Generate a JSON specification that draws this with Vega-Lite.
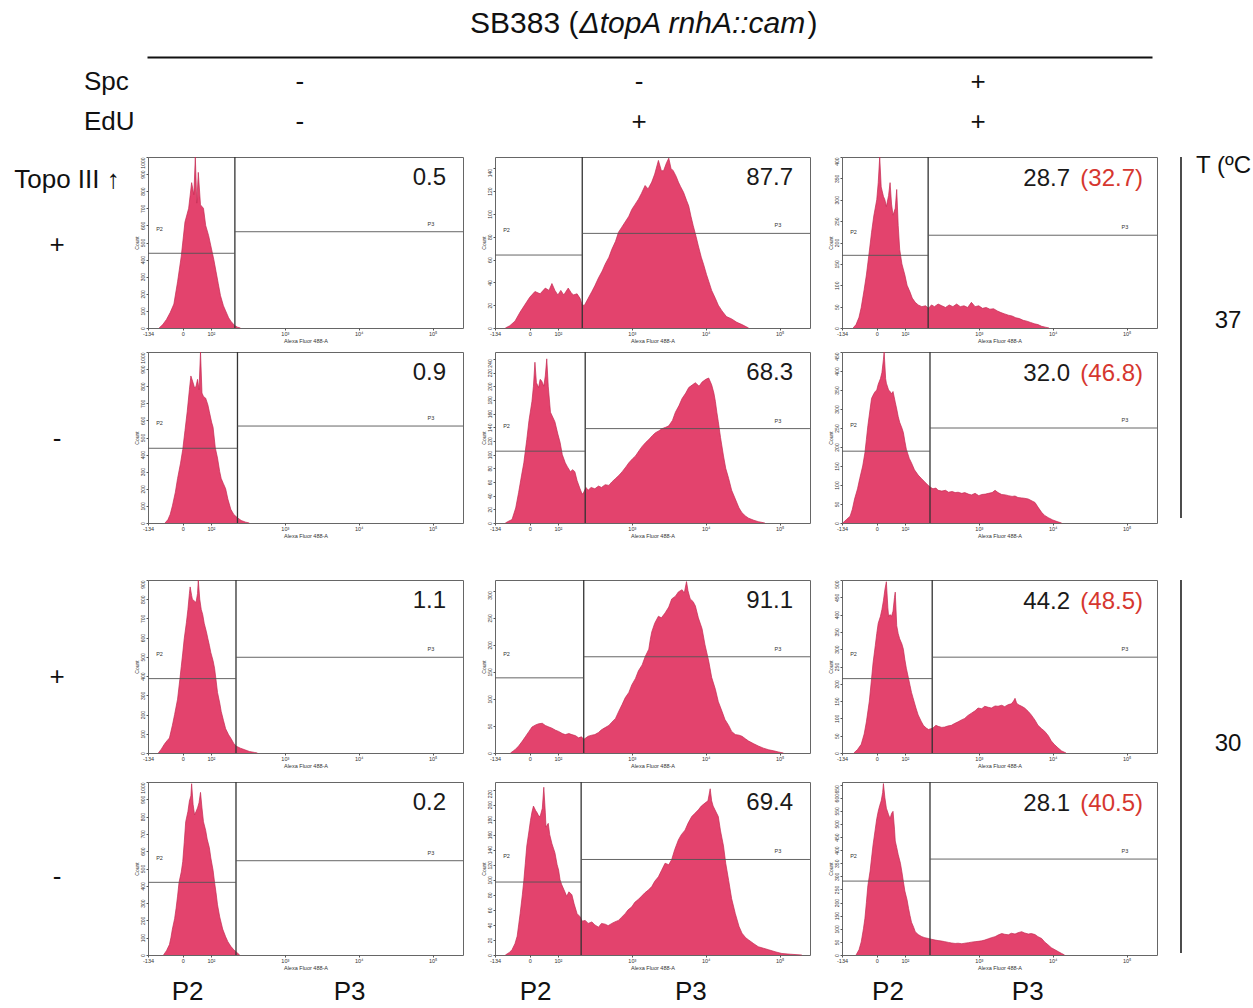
{
"$schema":"https://vega.github.io/schema/vega-lite/v6.json",
"background":"white",
"padding":{"left":12,"top":0,"right":0,"bottom":0},
"config":{"font":"Liberation Sans","view":{"stroke":"#666","strokeWidth":1},"text":{"font":"Liberation Sans"},"title":{"font":"Liberation Sans"}},
"datasets":{
"panels":[{"p":1,"g":"37","t":"+","c":"c1"},{"p":2,"g":"37","t":"+","c":"c2"},{"p":3,"g":"37","t":"+","c":"c3"},{"p":4,"g":"37","t":"-","c":"c1"},{"p":5,"g":"37","t":"-","c":"c2"},{"p":6,"g":"37","t":"-","c":"c3"},{"p":7,"g":"30","t":"+","c":"c1"},{"p":8,"g":"30","t":"+","c":"c2"},{"p":9,"g":"30","t":"+","c":"c3"},{"p":10,"g":"30","t":"-","c":"c1"},{"p":11,"g":"30","t":"-","c":"c2"},{"p":12,"g":"30","t":"-","c":"c3"}],
"flow":[
{"p":1,"k":"i","xg":2.325,"p2":437,"p3":563,"top":1000,"v":"0.5"},
{"p":2,"k":"i","xg":2.33,"p2":64,"p3":83,"top":150,"v":"87.7"},
{"p":3,"k":"i","xg":2.315,"p2":170,"p3":217,"top":400,"v":"28.7","w":"(32.7)"},
{"p":4,"k":"i","xg":2.36,"p2":437,"p3":567,"top":1000,"v":"0.9"},
{"p":5,"k":"i","xg":2.37,"p2":105,"p3":138,"top":250,"v":"68.3"},
{"p":6,"k":"i","xg":2.34,"p2":189,"p3":250,"top":450,"v":"32.0","w":"(46.8)"},
{"p":7,"k":"i","xg":2.34,"p2":387,"p3":498,"top":900,"v":"1.1"},
{"p":8,"k":"i","xg":2.35,"p2":139,"p3":178,"top":320,"v":"91.1"},
{"p":9,"k":"i","xg":2.37,"p2":215,"p3":277,"top":500,"v":"44.2","w":"(48.5)"},
{"p":10,"k":"i","xg":2.34,"p2":420,"p3":545,"top":1000,"v":"0.2"},
{"p":11,"k":"i","xg":2.315,"p2":97,"p3":127,"top":230,"v":"69.4"},
{"p":12,"k":"i","xg":2.34,"p2":282,"p3":366,"top":660,"v":"28.1","w":"(40.5)"},
{"p":1,"x":1.30,"n":0},{"p":1,"x":1.35,"n":20},{"p":1,"x":1.40,"n":50},{"p":1,"x":1.45,"n":90},{"p":1,"x":1.50,"n":140},{"p":1,"x":1.55,"n":270},{"p":1,"x":1.60,"n":420},{"p":1,"x":1.65,"n":620},{"p":1,"x":1.70,"n":700},{"p":1,"x":1.74,"n":850},{"p":1,"x":1.77,"n":780},{"p":1,"x":1.79,"n":1000},{"p":1,"x":1.81,"n":730},{"p":1,"x":1.83,"n":910},{"p":1,"x":1.86,"n":720},{"p":1,"x":1.90,"n":700},{"p":1,"x":1.93,"n":600},{"p":1,"x":1.97,"n":540},{"p":1,"x":2.00,"n":480},{"p":1,"x":2.04,"n":400},{"p":1,"x":2.07,"n":330},{"p":1,"x":2.10,"n":260},{"p":1,"x":2.13,"n":190},{"p":1,"x":2.17,"n":130},{"p":1,"x":2.20,"n":100},{"p":1,"x":2.24,"n":60},{"p":1,"x":2.27,"n":40},{"p":1,"x":2.32,"n":15},{"p":1,"x":2.36,"n":5},{"p":1,"x":2.40,"n":0},
{"p":2,"x":1.29,"n":0},{"p":2,"x":1.35,"n":2},{"p":2,"x":1.42,"n":6},{"p":2,"x":1.49,"n":14},{"p":2,"x":1.56,"n":21},{"p":2,"x":1.62,"n":27},{"p":2,"x":1.69,"n":32},{"p":2,"x":1.76,"n":30},{"p":2,"x":1.83,"n":35},{"p":2,"x":1.88,"n":33},{"p":2,"x":1.92,"n":39},{"p":2,"x":1.96,"n":33},{"p":2,"x":2.00,"n":29},{"p":2,"x":2.04,"n":33},{"p":2,"x":2.08,"n":29},{"p":2,"x":2.14,"n":35},{"p":2,"x":2.18,"n":31},{"p":2,"x":2.21,"n":29},{"p":2,"x":2.26,"n":30},{"p":2,"x":2.30,"n":26},{"p":2,"x":2.33,"n":20},{"p":2,"x":2.36,"n":20},{"p":2,"x":2.41,"n":26},{"p":2,"x":2.46,"n":32},{"p":2,"x":2.50,"n":37},{"p":2,"x":2.55,"n":44},{"p":2,"x":2.60,"n":50},{"p":2,"x":2.64,"n":56},{"p":2,"x":2.69,"n":62},{"p":2,"x":2.73,"n":69},{"p":2,"x":2.78,"n":76},{"p":2,"x":2.82,"n":84},{"p":2,"x":2.86,"n":88},{"p":2,"x":2.91,"n":93},{"p":2,"x":2.96,"n":98},{"p":2,"x":3.00,"n":104},{"p":2,"x":3.04,"n":108},{"p":2,"x":3.09,"n":113},{"p":2,"x":3.13,"n":118},{"p":2,"x":3.18,"n":125},{"p":2,"x":3.22,"n":122},{"p":2,"x":3.27,"n":128},{"p":2,"x":3.31,"n":135},{"p":2,"x":3.36,"n":147},{"p":2,"x":3.40,"n":138},{"p":2,"x":3.43,"n":138},{"p":2,"x":3.47,"n":145},{"p":2,"x":3.50,"n":149},{"p":2,"x":3.53,"n":140},{"p":2,"x":3.56,"n":138},{"p":2,"x":3.60,"n":133},{"p":2,"x":3.63,"n":128},{"p":2,"x":3.66,"n":124},{"p":2,"x":3.70,"n":119},{"p":2,"x":3.74,"n":112},{"p":2,"x":3.77,"n":107},{"p":2,"x":3.80,"n":98},{"p":2,"x":3.83,"n":90},{"p":2,"x":3.87,"n":80},{"p":2,"x":3.90,"n":72},{"p":2,"x":3.94,"n":62},{"p":2,"x":3.97,"n":56},{"p":2,"x":4.01,"n":47},{"p":2,"x":4.04,"n":41},{"p":2,"x":4.08,"n":33},{"p":2,"x":4.13,"n":26},{"p":2,"x":4.17,"n":20},{"p":2,"x":4.22,"n":15},{"p":2,"x":4.28,"n":10},{"p":2,"x":4.35,"n":8},{"p":2,"x":4.42,"n":5},{"p":2,"x":4.49,"n":3},{"p":2,"x":4.58,"n":0},
{"p":3,"x":1.30,"n":0},{"p":3,"x":1.34,"n":8},{"p":3,"x":1.38,"n":25},{"p":3,"x":1.41,"n":48},{"p":3,"x":1.45,"n":90},{"p":3,"x":1.48,"n":124},{"p":3,"x":1.52,"n":180},{"p":3,"x":1.55,"n":224},{"p":3,"x":1.58,"n":262},{"p":3,"x":1.62,"n":300},{"p":3,"x":1.64,"n":340},{"p":3,"x":1.66,"n":400},{"p":3,"x":1.68,"n":330},{"p":3,"x":1.71,"n":308},{"p":3,"x":1.73,"n":300},{"p":3,"x":1.75,"n":284},{"p":3,"x":1.78,"n":310},{"p":3,"x":1.80,"n":340},{"p":3,"x":1.82,"n":290},{"p":3,"x":1.84,"n":264},{"p":3,"x":1.87,"n":280},{"p":3,"x":1.89,"n":324},{"p":3,"x":1.91,"n":240},{"p":3,"x":1.93,"n":184},{"p":3,"x":1.96,"n":150},{"p":3,"x":2.00,"n":124},{"p":3,"x":2.03,"n":100},{"p":3,"x":2.07,"n":84},{"p":3,"x":2.10,"n":70},{"p":3,"x":2.14,"n":60},{"p":3,"x":2.18,"n":54},{"p":3,"x":2.23,"n":50},{"p":3,"x":2.28,"n":52},{"p":3,"x":2.32,"n":46},{"p":3,"x":2.36,"n":54},{"p":3,"x":2.40,"n":50},{"p":3,"x":2.45,"n":56},{"p":3,"x":2.50,"n":52},{"p":3,"x":2.55,"n":48},{"p":3,"x":2.60,"n":54},{"p":3,"x":2.65,"n":50},{"p":3,"x":2.70,"n":56},{"p":3,"x":2.75,"n":50},{"p":3,"x":2.80,"n":52},{"p":3,"x":2.85,"n":48},{"p":3,"x":2.90,"n":60},{"p":3,"x":2.95,"n":50},{"p":3,"x":3.00,"n":52},{"p":3,"x":3.05,"n":46},{"p":3,"x":3.10,"n":48},{"p":3,"x":3.15,"n":44},{"p":3,"x":3.20,"n":45},{"p":3,"x":3.25,"n":40},{"p":3,"x":3.30,"n":36},{"p":3,"x":3.35,"n":33},{"p":3,"x":3.40,"n":30},{"p":3,"x":3.45,"n":28},{"p":3,"x":3.50,"n":24},{"p":3,"x":3.55,"n":22},{"p":3,"x":3.60,"n":18},{"p":3,"x":3.65,"n":16},{"p":3,"x":3.70,"n":13},{"p":3,"x":3.75,"n":10},{"p":3,"x":3.80,"n":8},{"p":3,"x":3.85,"n":4},{"p":3,"x":3.90,"n":2},{"p":3,"x":3.95,"n":0},
{"p":4,"x":1.38,"n":0},{"p":4,"x":1.42,"n":20},{"p":4,"x":1.45,"n":50},{"p":4,"x":1.48,"n":100},{"p":4,"x":1.52,"n":180},{"p":4,"x":1.55,"n":260},{"p":4,"x":1.59,"n":350},{"p":4,"x":1.62,"n":430},{"p":4,"x":1.65,"n":540},{"p":4,"x":1.68,"n":650},{"p":4,"x":1.71,"n":780},{"p":4,"x":1.73,"n":860},{"p":4,"x":1.76,"n":820},{"p":4,"x":1.78,"n":790},{"p":4,"x":1.80,"n":800},{"p":4,"x":1.82,"n":840},{"p":4,"x":1.84,"n":780},{"p":4,"x":1.86,"n":1000},{"p":4,"x":1.88,"n":760},{"p":4,"x":1.90,"n":740},{"p":4,"x":1.93,"n":730},{"p":4,"x":1.96,"n":690},{"p":4,"x":1.98,"n":650},{"p":4,"x":2.01,"n":590},{"p":4,"x":2.03,"n":560},{"p":4,"x":2.06,"n":440},{"p":4,"x":2.09,"n":380},{"p":4,"x":2.12,"n":300},{"p":4,"x":2.14,"n":260},{"p":4,"x":2.17,"n":230},{"p":4,"x":2.20,"n":200},{"p":4,"x":2.23,"n":140},{"p":4,"x":2.27,"n":80},{"p":4,"x":2.31,"n":50},{"p":4,"x":2.36,"n":30},{"p":4,"x":2.41,"n":15},{"p":4,"x":2.47,"n":5},{"p":4,"x":2.52,"n":0},
{"p":5,"x":1.29,"n":0},{"p":5,"x":1.34,"n":3},{"p":5,"x":1.38,"n":5},{"p":5,"x":1.43,"n":22},{"p":5,"x":1.47,"n":45},{"p":5,"x":1.51,"n":70},{"p":5,"x":1.54,"n":88},{"p":5,"x":1.58,"n":122},{"p":5,"x":1.61,"n":150},{"p":5,"x":1.65,"n":178},{"p":5,"x":1.67,"n":200},{"p":5,"x":1.69,"n":235},{"p":5,"x":1.71,"n":205},{"p":5,"x":1.74,"n":198},{"p":5,"x":1.76,"n":210},{"p":5,"x":1.78,"n":208},{"p":5,"x":1.81,"n":200},{"p":5,"x":1.83,"n":215},{"p":5,"x":1.85,"n":240},{"p":5,"x":1.87,"n":200},{"p":5,"x":1.90,"n":162},{"p":5,"x":1.93,"n":155},{"p":5,"x":1.96,"n":148},{"p":5,"x":2.00,"n":130},{"p":5,"x":2.03,"n":118},{"p":5,"x":2.06,"n":100},{"p":5,"x":2.10,"n":88},{"p":5,"x":2.13,"n":82},{"p":5,"x":2.17,"n":75},{"p":5,"x":2.20,"n":78},{"p":5,"x":2.23,"n":75},{"p":5,"x":2.26,"n":62},{"p":5,"x":2.30,"n":50},{"p":5,"x":2.33,"n":42},{"p":5,"x":2.35,"n":45},{"p":5,"x":2.38,"n":52},{"p":5,"x":2.41,"n":48},{"p":5,"x":2.45,"n":52},{"p":5,"x":2.50,"n":50},{"p":5,"x":2.55,"n":54},{"p":5,"x":2.59,"n":52},{"p":5,"x":2.64,"n":56},{"p":5,"x":2.69,"n":55},{"p":5,"x":2.73,"n":60},{"p":5,"x":2.78,"n":65},{"p":5,"x":2.83,"n":70},{"p":5,"x":2.87,"n":75},{"p":5,"x":2.92,"n":82},{"p":5,"x":2.96,"n":88},{"p":5,"x":3.01,"n":94},{"p":5,"x":3.05,"n":98},{"p":5,"x":3.10,"n":106},{"p":5,"x":3.14,"n":112},{"p":5,"x":3.19,"n":118},{"p":5,"x":3.23,"n":122},{"p":5,"x":3.28,"n":128},{"p":5,"x":3.32,"n":132},{"p":5,"x":3.37,"n":135},{"p":5,"x":3.41,"n":138},{"p":5,"x":3.46,"n":140},{"p":5,"x":3.50,"n":142},{"p":5,"x":3.55,"n":150},{"p":5,"x":3.59,"n":162},{"p":5,"x":3.64,"n":172},{"p":5,"x":3.68,"n":182},{"p":5,"x":3.73,"n":190},{"p":5,"x":3.77,"n":198},{"p":5,"x":3.82,"n":202},{"p":5,"x":3.86,"n":205},{"p":5,"x":3.91,"n":200},{"p":5,"x":3.95,"n":206},{"p":5,"x":4.00,"n":210},{"p":5,"x":4.04,"n":212},{"p":5,"x":4.08,"n":202},{"p":5,"x":4.11,"n":190},{"p":5,"x":4.13,"n":178},{"p":5,"x":4.15,"n":162},{"p":5,"x":4.17,"n":148},{"p":5,"x":4.20,"n":125},{"p":5,"x":4.24,"n":98},{"p":5,"x":4.27,"n":80},{"p":5,"x":4.31,"n":65},{"p":5,"x":4.35,"n":48},{"p":5,"x":4.40,"n":35},{"p":5,"x":4.45,"n":22},{"p":5,"x":4.49,"n":15},{"p":5,"x":4.54,"n":10},{"p":5,"x":4.58,"n":7},{"p":5,"x":4.65,"n":4},{"p":5,"x":4.71,"n":2},{"p":5,"x":4.80,"n":0},
{"p":6,"x":1.16,"n":0},{"p":6,"x":1.21,"n":9},{"p":6,"x":1.26,"n":18},{"p":6,"x":1.29,"n":36},{"p":6,"x":1.32,"n":63},{"p":6,"x":1.36,"n":90},{"p":6,"x":1.39,"n":117},{"p":6,"x":1.43,"n":150},{"p":6,"x":1.46,"n":185},{"p":6,"x":1.48,"n":220},{"p":6,"x":1.50,"n":256},{"p":6,"x":1.53,"n":300},{"p":6,"x":1.55,"n":328},{"p":6,"x":1.58,"n":340},{"p":6,"x":1.60,"n":346},{"p":6,"x":1.62,"n":350},{"p":6,"x":1.64,"n":365},{"p":6,"x":1.67,"n":380},{"p":6,"x":1.69,"n":396},{"p":6,"x":1.71,"n":430},{"p":6,"x":1.72,"n":450},{"p":6,"x":1.74,"n":380},{"p":6,"x":1.75,"n":368},{"p":6,"x":1.78,"n":350},{"p":6,"x":1.80,"n":346},{"p":6,"x":1.82,"n":340},{"p":6,"x":1.84,"n":346},{"p":6,"x":1.87,"n":318},{"p":6,"x":1.89,"n":300},{"p":6,"x":1.91,"n":280},{"p":6,"x":1.93,"n":265},{"p":6,"x":1.96,"n":250},{"p":6,"x":1.98,"n":238},{"p":6,"x":2.00,"n":215},{"p":6,"x":2.02,"n":194},{"p":6,"x":2.06,"n":170},{"p":6,"x":2.09,"n":158},{"p":6,"x":2.13,"n":140},{"p":6,"x":2.18,"n":126},{"p":6,"x":2.22,"n":118},{"p":6,"x":2.27,"n":108},{"p":6,"x":2.31,"n":100},{"p":6,"x":2.34,"n":95},{"p":6,"x":2.38,"n":90},{"p":6,"x":2.42,"n":92},{"p":6,"x":2.45,"n":86},{"p":6,"x":2.50,"n":84},{"p":6,"x":2.55,"n":86},{"p":6,"x":2.59,"n":81},{"p":6,"x":2.64,"n":83},{"p":6,"x":2.68,"n":80},{"p":6,"x":2.72,"n":81},{"p":6,"x":2.77,"n":78},{"p":6,"x":2.81,"n":80},{"p":6,"x":2.86,"n":76},{"p":6,"x":2.90,"n":74},{"p":6,"x":2.95,"n":78},{"p":6,"x":3.00,"n":72},{"p":6,"x":3.04,"n":75},{"p":6,"x":3.09,"n":76},{"p":6,"x":3.13,"n":78},{"p":6,"x":3.18,"n":80},{"p":6,"x":3.22,"n":86},{"p":6,"x":3.26,"n":80},{"p":6,"x":3.31,"n":75},{"p":6,"x":3.36,"n":74},{"p":6,"x":3.40,"n":72},{"p":6,"x":3.45,"n":70},{"p":6,"x":3.49,"n":71},{"p":6,"x":3.53,"n":67},{"p":6,"x":3.58,"n":66},{"p":6,"x":3.62,"n":65},{"p":6,"x":3.67,"n":63},{"p":6,"x":3.72,"n":58},{"p":6,"x":3.76,"n":54},{"p":6,"x":3.80,"n":42},{"p":6,"x":3.85,"n":28},{"p":6,"x":3.89,"n":20},{"p":6,"x":3.94,"n":14},{"p":6,"x":4.00,"n":8},{"p":6,"x":4.07,"n":3},{"p":6,"x":4.12,"n":0},
{"p":7,"x":1.29,"n":0},{"p":7,"x":1.33,"n":20},{"p":7,"x":1.37,"n":45},{"p":7,"x":1.41,"n":65},{"p":7,"x":1.44,"n":78},{"p":7,"x":1.48,"n":144},{"p":7,"x":1.51,"n":200},{"p":7,"x":1.55,"n":280},{"p":7,"x":1.58,"n":380},{"p":7,"x":1.60,"n":450},{"p":7,"x":1.62,"n":520},{"p":7,"x":1.64,"n":594},{"p":7,"x":1.67,"n":680},{"p":7,"x":1.69,"n":747},{"p":7,"x":1.71,"n":830},{"p":7,"x":1.72,"n":864},{"p":7,"x":1.74,"n":820},{"p":7,"x":1.75,"n":800},{"p":7,"x":1.78,"n":790},{"p":7,"x":1.80,"n":783},{"p":7,"x":1.82,"n":830},{"p":7,"x":1.83,"n":900},{"p":7,"x":1.85,"n":800},{"p":7,"x":1.87,"n":747},{"p":7,"x":1.89,"n":720},{"p":7,"x":1.91,"n":675},{"p":7,"x":1.94,"n":630},{"p":7,"x":1.96,"n":594},{"p":7,"x":1.98,"n":560},{"p":7,"x":2.00,"n":522},{"p":7,"x":2.03,"n":480},{"p":7,"x":2.05,"n":441},{"p":7,"x":2.07,"n":380},{"p":7,"x":2.09,"n":315},{"p":7,"x":2.12,"n":260},{"p":7,"x":2.14,"n":216},{"p":7,"x":2.17,"n":170},{"p":7,"x":2.20,"n":126},{"p":7,"x":2.24,"n":95},{"p":7,"x":2.27,"n":77},{"p":7,"x":2.31,"n":50},{"p":7,"x":2.34,"n":36},{"p":7,"x":2.40,"n":25},{"p":7,"x":2.45,"n":18},{"p":7,"x":2.52,"n":8},{"p":7,"x":2.59,"n":3},{"p":7,"x":2.63,"n":0},
{"p":8,"x":1.36,"n":0},{"p":8,"x":1.42,"n":6},{"p":8,"x":1.47,"n":13},{"p":8,"x":1.52,"n":22},{"p":8,"x":1.56,"n":30},{"p":8,"x":1.61,"n":40},{"p":8,"x":1.65,"n":48},{"p":8,"x":1.70,"n":52},{"p":8,"x":1.74,"n":54},{"p":8,"x":1.79,"n":55},{"p":8,"x":1.83,"n":51},{"p":8,"x":1.88,"n":48},{"p":8,"x":1.92,"n":46},{"p":8,"x":1.97,"n":42},{"p":8,"x":2.01,"n":40},{"p":8,"x":2.06,"n":36},{"p":8,"x":2.10,"n":34},{"p":8,"x":2.15,"n":36},{"p":8,"x":2.19,"n":34},{"p":8,"x":2.24,"n":32},{"p":8,"x":2.28,"n":28},{"p":8,"x":2.32,"n":30},{"p":8,"x":2.35,"n":25},{"p":8,"x":2.38,"n":28},{"p":8,"x":2.41,"n":31},{"p":8,"x":2.46,"n":33},{"p":8,"x":2.50,"n":34},{"p":8,"x":2.55,"n":38},{"p":8,"x":2.59,"n":43},{"p":8,"x":2.64,"n":47},{"p":8,"x":2.69,"n":51},{"p":8,"x":2.73,"n":57},{"p":8,"x":2.78,"n":64},{"p":8,"x":2.82,"n":76},{"p":8,"x":2.87,"n":90},{"p":8,"x":2.91,"n":102},{"p":8,"x":2.96,"n":112},{"p":8,"x":3.00,"n":126},{"p":8,"x":3.05,"n":138},{"p":8,"x":3.09,"n":152},{"p":8,"x":3.14,"n":163},{"p":8,"x":3.18,"n":178},{"p":8,"x":3.23,"n":192},{"p":8,"x":3.25,"n":210},{"p":8,"x":3.27,"n":224},{"p":8,"x":3.31,"n":240},{"p":8,"x":3.36,"n":253},{"p":8,"x":3.40,"n":250},{"p":8,"x":3.45,"n":259},{"p":8,"x":3.50,"n":270},{"p":8,"x":3.54,"n":285},{"p":8,"x":3.59,"n":290},{"p":8,"x":3.63,"n":298},{"p":8,"x":3.68,"n":302},{"p":8,"x":3.71,"n":296},{"p":8,"x":3.74,"n":317},{"p":8,"x":3.76,"n":300},{"p":8,"x":3.79,"n":285},{"p":8,"x":3.83,"n":280},{"p":8,"x":3.86,"n":272},{"p":8,"x":3.90,"n":250},{"p":8,"x":3.95,"n":230},{"p":8,"x":3.99,"n":200},{"p":8,"x":4.04,"n":170},{"p":8,"x":4.08,"n":140},{"p":8,"x":4.13,"n":118},{"p":8,"x":4.17,"n":95},{"p":8,"x":4.22,"n":77},{"p":8,"x":4.26,"n":62},{"p":8,"x":4.31,"n":51},{"p":8,"x":4.35,"n":40},{"p":8,"x":4.40,"n":34},{"p":8,"x":4.45,"n":33},{"p":8,"x":4.49,"n":31},{"p":8,"x":4.54,"n":26},{"p":8,"x":4.58,"n":22},{"p":8,"x":4.65,"n":17},{"p":8,"x":4.71,"n":13},{"p":8,"x":4.78,"n":9},{"p":8,"x":4.85,"n":6},{"p":8,"x":4.92,"n":4},{"p":8,"x":4.98,"n":2},{"p":8,"x":5.05,"n":0},
{"p":9,"x":1.31,"n":0},{"p":9,"x":1.36,"n":10},{"p":9,"x":1.41,"n":25},{"p":9,"x":1.45,"n":55},{"p":9,"x":1.48,"n":90},{"p":9,"x":1.52,"n":150},{"p":9,"x":1.55,"n":215},{"p":9,"x":1.57,"n":260},{"p":9,"x":1.60,"n":310},{"p":9,"x":1.62,"n":345},{"p":9,"x":1.64,"n":375},{"p":9,"x":1.67,"n":395},{"p":9,"x":1.69,"n":415},{"p":9,"x":1.71,"n":440},{"p":9,"x":1.73,"n":472},{"p":9,"x":1.75,"n":495},{"p":9,"x":1.77,"n":420},{"p":9,"x":1.78,"n":395},{"p":9,"x":1.80,"n":400},{"p":9,"x":1.82,"n":395},{"p":9,"x":1.84,"n":410},{"p":9,"x":1.86,"n":450},{"p":9,"x":1.87,"n":465},{"p":9,"x":1.89,"n":368},{"p":9,"x":1.91,"n":345},{"p":9,"x":1.93,"n":330},{"p":9,"x":1.96,"n":315},{"p":9,"x":1.98,"n":300},{"p":9,"x":2.00,"n":270},{"p":9,"x":2.02,"n":245},{"p":9,"x":2.05,"n":215},{"p":9,"x":2.07,"n":195},{"p":9,"x":2.09,"n":175},{"p":9,"x":2.11,"n":160},{"p":9,"x":2.15,"n":130},{"p":9,"x":2.18,"n":110},{"p":9,"x":2.22,"n":92},{"p":9,"x":2.25,"n":80},{"p":9,"x":2.29,"n":72},{"p":9,"x":2.32,"n":68},{"p":9,"x":2.35,"n":70},{"p":9,"x":2.38,"n":72},{"p":9,"x":2.42,"n":80},{"p":9,"x":2.45,"n":77},{"p":9,"x":2.50,"n":74},{"p":9,"x":2.54,"n":75},{"p":9,"x":2.58,"n":78},{"p":9,"x":2.63,"n":80},{"p":9,"x":2.67,"n":85},{"p":9,"x":2.72,"n":90},{"p":9,"x":2.76,"n":95},{"p":9,"x":2.81,"n":100},{"p":9,"x":2.85,"n":108},{"p":9,"x":2.90,"n":115},{"p":9,"x":2.95,"n":122},{"p":9,"x":2.99,"n":130},{"p":9,"x":3.04,"n":128},{"p":9,"x":3.08,"n":135},{"p":9,"x":3.13,"n":132},{"p":9,"x":3.17,"n":130},{"p":9,"x":3.22,"n":136},{"p":9,"x":3.26,"n":135},{"p":9,"x":3.31,"n":138},{"p":9,"x":3.35,"n":134},{"p":9,"x":3.40,"n":140},{"p":9,"x":3.44,"n":142},{"p":9,"x":3.47,"n":150},{"p":9,"x":3.49,"n":158},{"p":9,"x":3.51,"n":145},{"p":9,"x":3.53,"n":140},{"p":9,"x":3.58,"n":135},{"p":9,"x":3.62,"n":130},{"p":9,"x":3.67,"n":120},{"p":9,"x":3.71,"n":110},{"p":9,"x":3.76,"n":95},{"p":9,"x":3.80,"n":80},{"p":9,"x":3.85,"n":70},{"p":9,"x":3.89,"n":63},{"p":9,"x":3.94,"n":50},{"p":9,"x":3.98,"n":35},{"p":9,"x":4.02,"n":25},{"p":9,"x":4.07,"n":15},{"p":9,"x":4.12,"n":6},{"p":9,"x":4.18,"n":0},
{"p":10,"x":1.36,"n":0},{"p":10,"x":1.40,"n":25},{"p":10,"x":1.44,"n":60},{"p":10,"x":1.46,"n":100},{"p":10,"x":1.48,"n":150},{"p":10,"x":1.51,"n":210},{"p":10,"x":1.53,"n":270},{"p":10,"x":1.55,"n":340},{"p":10,"x":1.57,"n":420},{"p":10,"x":1.60,"n":480},{"p":10,"x":1.62,"n":540},{"p":10,"x":1.64,"n":650},{"p":10,"x":1.66,"n":770},{"p":10,"x":1.69,"n":830},{"p":10,"x":1.71,"n":890},{"p":10,"x":1.73,"n":920},{"p":10,"x":1.74,"n":990},{"p":10,"x":1.76,"n":870},{"p":10,"x":1.78,"n":810},{"p":10,"x":1.80,"n":830},{"p":10,"x":1.82,"n":850},{"p":10,"x":1.84,"n":880},{"p":10,"x":1.86,"n":940},{"p":10,"x":1.88,"n":850},{"p":10,"x":1.90,"n":770},{"p":10,"x":1.93,"n":720},{"p":10,"x":1.95,"n":670},{"p":10,"x":1.98,"n":620},{"p":10,"x":2.00,"n":560},{"p":10,"x":2.03,"n":490},{"p":10,"x":2.05,"n":420},{"p":10,"x":2.07,"n":360},{"p":10,"x":2.09,"n":290},{"p":10,"x":2.12,"n":220},{"p":10,"x":2.16,"n":150},{"p":10,"x":2.20,"n":105},{"p":10,"x":2.23,"n":77},{"p":10,"x":2.27,"n":50},{"p":10,"x":2.31,"n":30},{"p":10,"x":2.35,"n":15},{"p":10,"x":2.39,"n":0},
{"p":11,"x":1.29,"n":0},{"p":11,"x":1.34,"n":3},{"p":11,"x":1.38,"n":7},{"p":11,"x":1.42,"n":15},{"p":11,"x":1.45,"n":25},{"p":11,"x":1.47,"n":40},{"p":11,"x":1.49,"n":55},{"p":11,"x":1.52,"n":80},{"p":11,"x":1.54,"n":99},{"p":11,"x":1.56,"n":122},{"p":11,"x":1.58,"n":145},{"p":11,"x":1.61,"n":165},{"p":11,"x":1.63,"n":179},{"p":11,"x":1.65,"n":190},{"p":11,"x":1.67,"n":198},{"p":11,"x":1.70,"n":192},{"p":11,"x":1.72,"n":189},{"p":11,"x":1.74,"n":185},{"p":11,"x":1.76,"n":184},{"p":11,"x":1.79,"n":195},{"p":11,"x":1.81,"n":223},{"p":11,"x":1.83,"n":190},{"p":11,"x":1.84,"n":170},{"p":11,"x":1.87,"n":175},{"p":11,"x":1.89,"n":160},{"p":11,"x":1.92,"n":148},{"p":11,"x":1.94,"n":142},{"p":11,"x":1.96,"n":136},{"p":11,"x":1.99,"n":120},{"p":11,"x":2.01,"n":113},{"p":11,"x":2.03,"n":100},{"p":11,"x":2.05,"n":94},{"p":11,"x":2.09,"n":85},{"p":11,"x":2.12,"n":78},{"p":11,"x":2.15,"n":84},{"p":11,"x":2.19,"n":80},{"p":11,"x":2.22,"n":68},{"p":11,"x":2.26,"n":55},{"p":11,"x":2.30,"n":51},{"p":11,"x":2.33,"n":45},{"p":11,"x":2.37,"n":46},{"p":11,"x":2.41,"n":42},{"p":11,"x":2.46,"n":44},{"p":11,"x":2.50,"n":40},{"p":11,"x":2.55,"n":37},{"p":11,"x":2.59,"n":42},{"p":11,"x":2.64,"n":41},{"p":11,"x":2.68,"n":39},{"p":11,"x":2.73,"n":42},{"p":11,"x":2.77,"n":44},{"p":11,"x":2.82,"n":46},{"p":11,"x":2.86,"n":50},{"p":11,"x":2.91,"n":55},{"p":11,"x":2.95,"n":60},{"p":11,"x":3.00,"n":64},{"p":11,"x":3.04,"n":70},{"p":11,"x":3.09,"n":74},{"p":11,"x":3.13,"n":78},{"p":11,"x":3.18,"n":83},{"p":11,"x":3.22,"n":86},{"p":11,"x":3.27,"n":91},{"p":11,"x":3.31,"n":98},{"p":11,"x":3.36,"n":104},{"p":11,"x":3.40,"n":112},{"p":11,"x":3.45,"n":122},{"p":11,"x":3.50,"n":120},{"p":11,"x":3.54,"n":127},{"p":11,"x":3.58,"n":140},{"p":11,"x":3.63,"n":153},{"p":11,"x":3.67,"n":160},{"p":11,"x":3.72,"n":166},{"p":11,"x":3.76,"n":175},{"p":11,"x":3.81,"n":184},{"p":11,"x":3.85,"n":188},{"p":11,"x":3.90,"n":193},{"p":11,"x":3.94,"n":198},{"p":11,"x":3.99,"n":202},{"p":11,"x":4.03,"n":205},{"p":11,"x":4.06,"n":221},{"p":11,"x":4.08,"n":205},{"p":11,"x":4.10,"n":198},{"p":11,"x":4.14,"n":190},{"p":11,"x":4.17,"n":184},{"p":11,"x":4.20,"n":165},{"p":11,"x":4.24,"n":145},{"p":11,"x":4.27,"n":122},{"p":11,"x":4.31,"n":99},{"p":11,"x":4.35,"n":75},{"p":11,"x":4.40,"n":55},{"p":11,"x":4.45,"n":38},{"p":11,"x":4.49,"n":29},{"p":11,"x":4.54,"n":23},{"p":11,"x":4.58,"n":20},{"p":11,"x":4.65,"n":15},{"p":11,"x":4.71,"n":11},{"p":11,"x":4.78,"n":9},{"p":11,"x":4.85,"n":7},{"p":11,"x":4.95,"n":4},{"p":11,"x":5.03,"n":2},{"p":11,"x":5.15,"n":1},{"p":11,"x":5.30,"n":0},
{"p":12,"x":1.34,"n":0},{"p":12,"x":1.38,"n":20},{"p":12,"x":1.41,"n":50},{"p":12,"x":1.44,"n":100},{"p":12,"x":1.46,"n":140},{"p":12,"x":1.48,"n":200},{"p":12,"x":1.50,"n":265},{"p":12,"x":1.53,"n":320},{"p":12,"x":1.55,"n":370},{"p":12,"x":1.57,"n":420},{"p":12,"x":1.60,"n":480},{"p":12,"x":1.62,"n":520},{"p":12,"x":1.64,"n":548},{"p":12,"x":1.66,"n":570},{"p":12,"x":1.68,"n":588},{"p":12,"x":1.70,"n":620},{"p":12,"x":1.71,"n":654},{"p":12,"x":1.73,"n":600},{"p":12,"x":1.75,"n":560},{"p":12,"x":1.78,"n":535},{"p":12,"x":1.80,"n":520},{"p":12,"x":1.82,"n":540},{"p":12,"x":1.84,"n":548},{"p":12,"x":1.86,"n":480},{"p":12,"x":1.87,"n":435},{"p":12,"x":1.89,"n":410},{"p":12,"x":1.91,"n":383},{"p":12,"x":1.94,"n":350},{"p":12,"x":1.96,"n":317},{"p":12,"x":1.98,"n":280},{"p":12,"x":2.00,"n":244},{"p":12,"x":2.03,"n":210},{"p":12,"x":2.05,"n":178},{"p":12,"x":2.07,"n":150},{"p":12,"x":2.09,"n":125},{"p":12,"x":2.12,"n":105},{"p":12,"x":2.14,"n":89},{"p":12,"x":2.18,"n":78},{"p":12,"x":2.23,"n":70},{"p":12,"x":2.27,"n":66},{"p":12,"x":2.32,"n":63},{"p":12,"x":2.36,"n":60},{"p":12,"x":2.41,"n":57},{"p":12,"x":2.45,"n":55},{"p":12,"x":2.50,"n":53},{"p":12,"x":2.54,"n":51},{"p":12,"x":2.59,"n":48},{"p":12,"x":2.63,"n":46},{"p":12,"x":2.68,"n":44},{"p":12,"x":2.72,"n":45},{"p":12,"x":2.77,"n":43},{"p":12,"x":2.81,"n":45},{"p":12,"x":2.86,"n":47},{"p":12,"x":2.90,"n":49},{"p":12,"x":2.95,"n":51},{"p":12,"x":2.99,"n":52},{"p":12,"x":3.04,"n":54},{"p":12,"x":3.08,"n":57},{"p":12,"x":3.13,"n":62},{"p":12,"x":3.17,"n":66},{"p":12,"x":3.22,"n":70},{"p":12,"x":3.26,"n":76},{"p":12,"x":3.31,"n":82},{"p":12,"x":3.35,"n":79},{"p":12,"x":3.40,"n":77},{"p":12,"x":3.44,"n":83},{"p":12,"x":3.49,"n":80},{"p":12,"x":3.53,"n":85},{"p":12,"x":3.58,"n":89},{"p":12,"x":3.62,"n":84},{"p":12,"x":3.67,"n":80},{"p":12,"x":3.71,"n":82},{"p":12,"x":3.76,"n":78},{"p":12,"x":3.80,"n":70},{"p":12,"x":3.85,"n":63},{"p":12,"x":3.89,"n":50},{"p":12,"x":3.94,"n":38},{"p":12,"x":3.98,"n":28},{"p":12,"x":4.03,"n":20},{"p":12,"x":4.08,"n":12},{"p":12,"x":4.12,"n":6},{"p":12,"x":4.16,"n":0}
]},
"vconcat":[
 {"vconcat":[
  {"hconcat":[
   {"width":110,"height":57,"view":{"stroke":null},"data":{"values":[{"e":""}]},"mark":{"type":"text"},"encoding":{"text":{"field":"e"}}},
   {"width":1005,"height":57,"view":{"stroke":null},
    "data":{"values":[{"a":"SB383 (","b":"ΔtopA rnhA::cam","e":")"}]},
    "encoding":{"x":{"datum":0.5,"type":"quantitative","scale":{"domain":[0,1],"nice":false},"axis":{"orient":"bottom","domain":true,"domainWidth":2,"domainColor":"#111","ticks":false,"labels":false,"grid":false,"title":null}}},
    "layer":[
     {"mark":{"type":"text","fontSize":30,"align":"right","baseline":"middle","dx":-71,"dy":-5,"color":"#111"},"encoding":{"text":{"field":"a"}}},
     {"mark":{"type":"text","fontSize":30,"align":"left","baseline":"middle","dx":-70,"dy":-5,"fontStyle":"italic","color":"#111"},"encoding":{"text":{"field":"b"}}},
     {"mark":{"type":"text","fontSize":30,"align":"left","baseline":"middle","dx":158,"dy":-5,"color":"#111"},"encoding":{"text":{"field":"e"}}}
    ]}
  ],"spacing":25},
  {"hconcat":[
   {"width":123,"height":96,"view":{"stroke":null},
    "data":{"values":[{"f":"Spc"},{"f":"EdU"}]},
    "mark":{"type":"text","fontSize":26,"align":"left","baseline":"middle","dx":10.5,"color":"#111"},
    "encoding":{"y":{"field":"f","type":"nominal","sort":["Spc","EdU"],"scale":{"type":"band","paddingInner":0,"paddingOuter":0.2,"align":0.3125},"axis":null},"text":{"field":"f"}}},
   {"width":984,"height":96,"view":{"stroke":null},
    "data":{"values":[{"f":"Spc","c":"c1","s":"-"},{"f":"Spc","c":"c2","s":"-"},{"f":"Spc","c":"c3","s":"+"},{"f":"EdU","c":"c1","s":"-"},{"f":"EdU","c":"c2","s":"+"},{"f":"EdU","c":"c3","s":"+"}]},
    "mark":{"type":"text","fontSize":26,"baseline":"middle","color":"#111"},
    "encoding":{
     "x":{"field":"c","type":"nominal","scale":{"type":"point","padding":0.451},"axis":null},
     "y":{"field":"f","type":"nominal","sort":["Spc","EdU"],"scale":{"type":"band","paddingInner":0,"paddingOuter":0.2,"align":0.3125},"axis":null},
     "text":{"field":"s"}}}
  ],"spacing":12},
  {"hconcat":[
   {"width":110,"height":366,"view":{"stroke":null},
    "data":{"values":[{"t":"+","s":"+","lab":"Topo III ↑"},{"t":"-","s":"-"}]},
    "encoding":{"y":{"field":"t","type":"nominal","sort":["+","-"],"scale":{"type":"band","paddingInner":0.123,"paddingOuter":0},"axis":null}},
    "layer":[
     {"mark":{"type":"text","fontSize":26,"dx":-10,"dy":2,"color":"#111"},"encoding":{"text":{"field":"s"}}},
     {"transform":[{"filter":"isValid(datum.lab)"}],"mark":{"type":"text","fontSize":26,"dy":-63,"color":"#111"},"encoding":{"text":{"field":"lab"}}}
    ]},
   {"data":{"name":"flow"},
    "transform":[{"lookup":"p","from":{"data":{"name":"panels"},"key":"p","fields":["g","t","c"]}},{"filter":"datum.g=='37'"}],
    "facet":{"row":{"field":"t","type":"nominal","title":null,"header":{"labels":false}},
             "column":{"field":"c","type":"nominal","title":null,"header":{"labels":false}}},
    "spacing":{"row":6,"column":16},
    "resolve":{"scale":{"y":"independent"},"axis":{"x":"independent","y":"independent"}},
    "spec":{"width":315,"height":171,
     "layer":[
      {"transform":[{"filter":"isValid(datum.n)"}],"mark":{"type":"area","color":"#E3436D","opacity":1,"fillOpacity":1,"line":{"color":"#C42A52","strokeWidth":0.7},"interpolate":"linear"},
       "encoding":{"x":{"field":"x","type":"quantitative","scale":{"domain":[1.15,5.41],"nice":false,"zero":false},"axis":{"values":[1.15,1.62,2,3,4,5],"labelExpr":"datum.value < 1.3 ? '-134' : datum.value < 1.8 ? '0' : datum.value < 2.5 ? '10²' : datum.value < 3.5 ? '10³' : datum.value < 4.5 ? '10⁴' : '10⁵'","labelFontSize":5.5,"labelColor":"#333","tickSize":2,"tickColor":"#555","labelPadding":1,"title":"Alexa Fluor 488-A","titleFontSize":5.5,"titleFontWeight":"normal","titlePadding":1,"titleColor":"#333","grid":false,"domain":false,"labelFlush":false,"labelOverlap":false,"minExtent":9,"maxExtent":9}},
        "y":{"field":"n","type":"quantitative","stack":null,"scale":{"nice":false,"zero":true},"axis":{"tickCount":10,"format":"d","labelFontSize":5,"labelAngle":270,"labelAlign":{"condition":{"test":"datum.index == 1","value":"right"},"value":"center"},"labelBaseline":"bottom","labelPadding":1,"labelColor":"#333","tickSize":2,"tickColor":"#555","title":"Count","titleFontSize":5,"titleFontWeight":"normal","titlePadding":1,"titleColor":"#333","grid":false,"domain":false,"minExtent":8,"maxExtent":8}}}},
      {"transform":[{"filter":"datum.k=='i'"}],"mark":{"type":"rule","color":"#333","strokeWidth":1.3},"encoding":{"x":{"field":"xg","type":"quantitative"}}},
      {"transform":[{"filter":"datum.k=='i'"}],"mark":{"type":"rule","color":"#555","strokeWidth":0.9},"encoding":{"x":{"field":"xg","type":"quantitative"},"x2":{"datum":1.15},"y":{"field":"p2","type":"quantitative"}}},
      {"transform":[{"filter":"datum.k=='i'"}],"mark":{"type":"rule","color":"#555","strokeWidth":0.9},"encoding":{"x":{"field":"xg","type":"quantitative"},"x2":{"datum":5.41},"y":{"field":"p3","type":"quantitative"}}},
      {"transform":[{"filter":"datum.k=='i'"}],"mark":{"type":"text","text":"P2","fontSize":5.5,"align":"left","dy":-3,"color":"#333"},"encoding":{"x":{"datum":1.26,"type":"quantitative"},"y":{"field":"p3","type":"quantitative"}}},
      {"transform":[{"filter":"datum.k=='i'"}],"mark":{"type":"text","text":"P3","fontSize":5.5,"align":"left","dy":-8,"color":"#333"},"encoding":{"x":{"datum":4.93,"type":"quantitative"},"y":{"field":"p3","type":"quantitative"}}},
      {"transform":[{"filter":"datum.k=='i' && datum.c!='c3'"}],"mark":{"type":"text","fontSize":24,"align":"right","baseline":"middle","dx":-17,"dy":21,"color":"#1a1a1a"},"encoding":{"x":{"datum":5.41,"type":"quantitative"},"y":{"field":"top","type":"quantitative"},"text":{"field":"v"}}},
      {"transform":[{"filter":"datum.k=='i' && datum.c=='c3'"}],"mark":{"type":"text","fontSize":24,"align":"right","baseline":"middle","dx":-87,"dy":22,"color":"#1a1a1a"},"encoding":{"x":{"datum":5.41,"type":"quantitative"},"y":{"field":"top","type":"quantitative"},"text":{"field":"v"}}},
      {"transform":[{"filter":"datum.k=='i' && datum.c=='c3'"}],"mark":{"type":"text","fontSize":24,"align":"right","baseline":"middle","dx":-14,"dy":22,"color":"#D6372F"},"encoding":{"x":{"datum":5.41,"type":"quantitative"},"y":{"field":"top","type":"quantitative"},"text":{"field":"w"}}}
     ]}},
   {"width":90,"height":361,"view":{"stroke":null},
    "data":{"values":[{"T":"37","u":"T (ºC"}]},
    "layer":[
     {"mark":{"type":"rule","color":"#111","strokeWidth":1.5},"encoding":{"x":{"datum":0.1333,"type":"quantitative","scale":{"domain":[0,1],"nice":false},"axis":null}}},
     {"mark":{"type":"text","fontSize":24,"dy":-17,"color":"#111"},"encoding":{"x":{"datum":0.656,"type":"quantitative"},"text":{"field":"T"}}},
     {"mark":{"type":"text","fontSize":24,"align":"left","baseline":"middle","dy":-172,"color":"#111"},"encoding":{"x":{"datum":0.3,"type":"quantitative"},"text":{"field":"u"}}}
    ]}
  ],"spacing":11}
 ],"spacing":0},
 {"vconcat":[
  {"hconcat":[
   {"width":110,"height":373,"view":{"stroke":null},
    "data":{"values":[{"t":"+","s":"+"},{"t":"-","s":"-"}]},
    "mark":{"type":"text","fontSize":26,"dx":-10,"dy":10,"color":"#111"},
    "encoding":{"y":{"field":"t","type":"nominal","sort":["+","-"],"scale":{"type":"band","paddingInner":0.135,"paddingOuter":0},"axis":null},"text":{"field":"s"}}},
   {"data":{"name":"flow"},
    "transform":[{"lookup":"p","from":{"data":{"name":"panels"},"key":"p","fields":["g","t","c"]}},{"filter":"datum.g=='30'"}],
    "facet":{"row":{"field":"t","type":"nominal","title":null,"header":{"labels":false}},
             "column":{"field":"c","type":"nominal","title":null,"header":{"labels":false}}},
    "spacing":{"row":11,"column":16},
    "resolve":{"scale":{"y":"independent"},"axis":{"x":"independent","y":"independent"}},
    "spec":{"width":315,"height":173,
     "layer":[
      {"transform":[{"filter":"isValid(datum.n)"}],"mark":{"type":"area","color":"#E3436D","opacity":1,"fillOpacity":1,"line":{"color":"#C42A52","strokeWidth":0.7},"interpolate":"linear"},
       "encoding":{"x":{"field":"x","type":"quantitative","scale":{"domain":[1.15,5.41],"nice":false,"zero":false},"axis":{"values":[1.15,1.62,2,3,4,5],"labelExpr":"datum.value < 1.3 ? '-134' : datum.value < 1.8 ? '0' : datum.value < 2.5 ? '10²' : datum.value < 3.5 ? '10³' : datum.value < 4.5 ? '10⁴' : '10⁵'","labelFontSize":5.5,"labelColor":"#333","tickSize":2,"tickColor":"#555","labelPadding":1,"title":"Alexa Fluor 488-A","titleFontSize":5.5,"titleFontWeight":"normal","titlePadding":1,"titleColor":"#333","grid":false,"domain":false,"labelFlush":false,"labelOverlap":false,"minExtent":9,"maxExtent":9}},
        "y":{"field":"n","type":"quantitative","stack":null,"scale":{"nice":false,"zero":true},"axis":{"tickCount":10,"format":"d","labelFontSize":5,"labelAngle":270,"labelAlign":{"condition":{"test":"datum.index == 1","value":"right"},"value":"center"},"labelBaseline":"bottom","labelPadding":1,"labelColor":"#333","tickSize":2,"tickColor":"#555","title":"Count","titleFontSize":5,"titleFontWeight":"normal","titlePadding":1,"titleColor":"#333","grid":false,"domain":false,"minExtent":8,"maxExtent":8}}}},
      {"transform":[{"filter":"datum.k=='i'"}],"mark":{"type":"rule","color":"#333","strokeWidth":1.3},"encoding":{"x":{"field":"xg","type":"quantitative"}}},
      {"transform":[{"filter":"datum.k=='i'"}],"mark":{"type":"rule","color":"#555","strokeWidth":0.9},"encoding":{"x":{"field":"xg","type":"quantitative"},"x2":{"datum":1.15},"y":{"field":"p2","type":"quantitative"}}},
      {"transform":[{"filter":"datum.k=='i'"}],"mark":{"type":"rule","color":"#555","strokeWidth":0.9},"encoding":{"x":{"field":"xg","type":"quantitative"},"x2":{"datum":5.41},"y":{"field":"p3","type":"quantitative"}}},
      {"transform":[{"filter":"datum.k=='i'"}],"mark":{"type":"text","text":"P2","fontSize":5.5,"align":"left","dy":-3,"color":"#333"},"encoding":{"x":{"datum":1.26,"type":"quantitative"},"y":{"field":"p3","type":"quantitative"}}},
      {"transform":[{"filter":"datum.k=='i'"}],"mark":{"type":"text","text":"P3","fontSize":5.5,"align":"left","dy":-8,"color":"#333"},"encoding":{"x":{"datum":4.93,"type":"quantitative"},"y":{"field":"p3","type":"quantitative"}}},
      {"transform":[{"filter":"datum.k=='i' && datum.c!='c3'"}],"mark":{"type":"text","fontSize":24,"align":"right","baseline":"middle","dx":-17,"dy":21,"color":"#1a1a1a"},"encoding":{"x":{"datum":5.41,"type":"quantitative"},"y":{"field":"top","type":"quantitative"},"text":{"field":"v"}}},
      {"transform":[{"filter":"datum.k=='i' && datum.c=='c3'"}],"mark":{"type":"text","fontSize":24,"align":"right","baseline":"middle","dx":-87,"dy":22,"color":"#1a1a1a"},"encoding":{"x":{"datum":5.41,"type":"quantitative"},"y":{"field":"top","type":"quantitative"},"text":{"field":"v"}}},
      {"transform":[{"filter":"datum.k=='i' && datum.c=='c3'"}],"mark":{"type":"text","fontSize":24,"align":"right","baseline":"middle","dx":-14,"dy":22,"color":"#D6372F"},"encoding":{"x":{"datum":5.41,"type":"quantitative"},"y":{"field":"top","type":"quantitative"},"text":{"field":"w"}}}
     ]}},
   {"width":90,"height":373,"view":{"stroke":null},
    "data":{"values":[{"T":"30"}]},
    "layer":[
     {"mark":{"type":"rule","color":"#111","strokeWidth":1.5},"encoding":{"x":{"datum":0.1333,"type":"quantitative","scale":{"domain":[0,1],"nice":false},"axis":null}}},
     {"mark":{"type":"text","fontSize":24,"dy":-23,"color":"#111"},"encoding":{"x":{"datum":0.656,"type":"quantitative"},"text":{"field":"T"}}}
    ]}
  ],"spacing":11},
  {"hconcat":[
   {"width":110,"height":24,"view":{"stroke":null},"data":{"values":[{"e":""}]},"mark":{"type":"text"},"encoding":{"text":{"field":"e"}}},
   {"data":{"values":[{"c":"c1","l":"P2","x":1.70},{"c":"c1","l":"P3","x":3.89},{"c":"c2","l":"P2","x":1.74},{"c":"c2","l":"P3","x":3.84},{"c":"c3","l":"P2","x":1.84},{"c":"c3","l":"P3","x":3.73}]},
    "facet":{"column":{"field":"c","type":"nominal","title":null,"header":{"labels":false}}},
    "spacing":{"column":30},
    "spec":{"width":315,"height":24,"view":{"stroke":null},
     "mark":{"type":"text","fontSize":26,"baseline":"middle","color":"#111"},
     "encoding":{"x":{"field":"x","type":"quantitative","scale":{"domain":[1.15,5.41],"nice":false,"zero":false},"axis":null},"text":{"field":"l"}}}}
  ],"spacing":25}
 ],"spacing":8}
],
"spacing":39
}
